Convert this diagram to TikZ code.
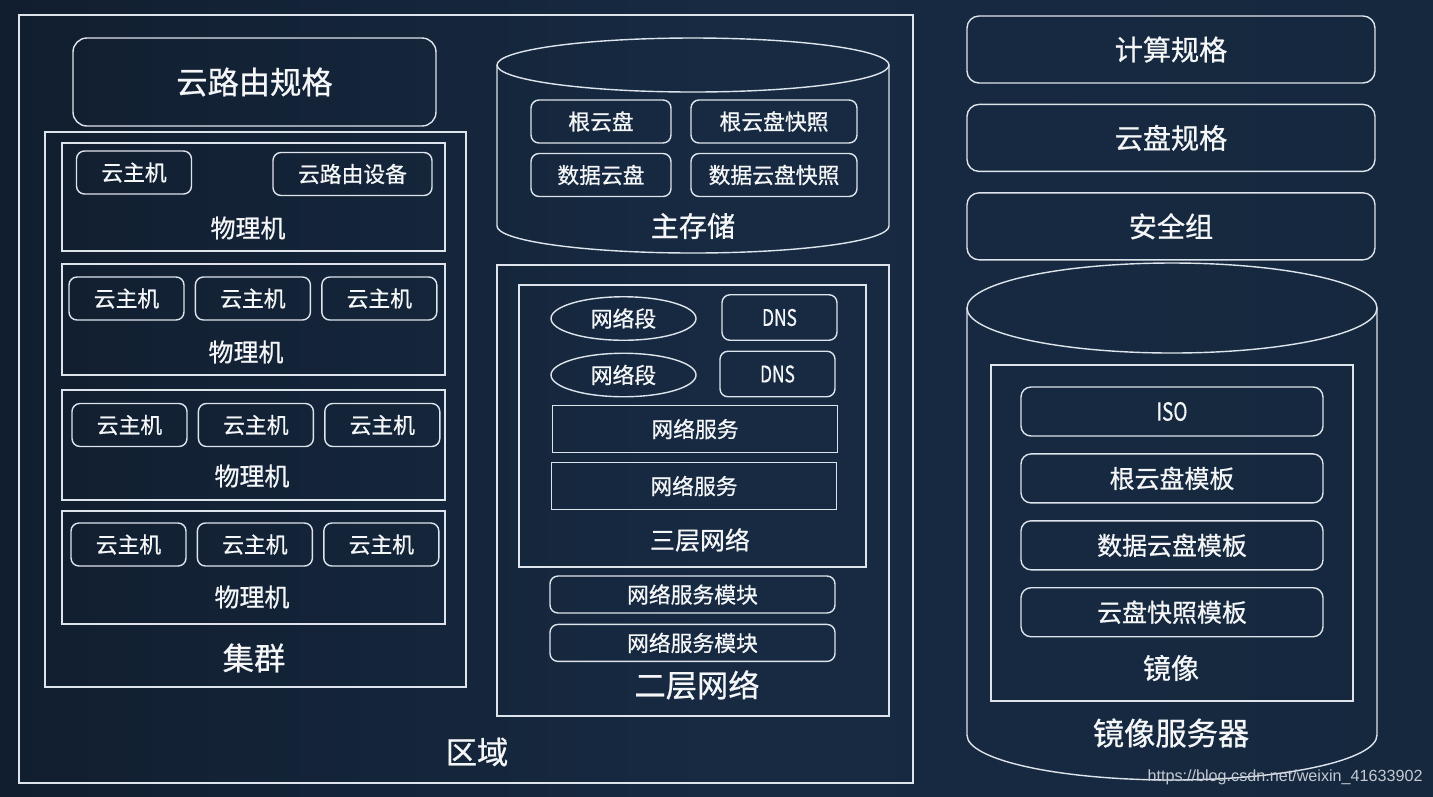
\documentclass[tikz,border=0pt]{standalone}
\usepackage{fontspec}
\setmainfont{Noto Sans CJK SC}[RawFeature={embolden=0.7}]
\newfontfamily\urlfont{Liberation Sans}
\usetikzlibrary{positioning, shapes.geometric}
\definecolor{bgLeft}{RGB}{17,30,47}
\definecolor{bgMid}{RGB}{23,42,66}
\definecolor{bgRight}{RGB}{22,40,62}
\definecolor{lineWhite}{RGB}{222,228,236}
\definecolor{textWhite}{RGB}{244,246,248}
\definecolor{markGray}{RGB}{196,202,210}
\newcommand{\narrowtxt}[1]{\scalebox{0.76}[1]{#1}}
\tikzset{
    wire/.style={draw=lineWhite, line width=0.8pt},
    zonebox/.style={
        rectangle,
        wire,
        inner sep=0pt
    },
    hostbox/.style={
        rectangle,
        wire,
        inner sep=0pt
    },
    specbox/.style={
        rectangle,
        wire,
        rounded corners=0.28cm,
        inner sep=0pt,
        text=textWhite,
        font=\fontsize{17.8}{20}\selectfont
    },
    sidespec/.style={
        rectangle,
        wire,
        rounded corners=0.24cm,
        minimum width=8.16cm,
        minimum height=1.34cm,
        inner sep=0pt,
        text=textWhite,
        font=\fontsize{16}{18}\selectfont
    },
    vmbox/.style={
        rectangle,
        wire,
        rounded corners=0.16cm,
        minimum width=2.30cm,
        minimum height=0.86cm,
        inner sep=0pt,
        text=textWhite,
        font=\fontsize{12.4}{14}\selectfont
    },
    diskbox/.style={vmbox, minimum height=0.86cm},
    segnode/.style={
        ellipse,
        wire,
        minimum width=2.90cm,
        minimum height=0.87cm,
        inner sep=0pt,
        text=textWhite,
        font=\fontsize{12.4}{14}\selectfont
    },
    dnsbox/.style={vmbox, minimum height=0.91cm, font=\fontsize{13}{15}\selectfont},
    svcbox/.style={
        rectangle,
        wire,
        minimum width=5.70cm,
        minimum height=0.94cm,
        inner sep=0pt,
        text=textWhite,
        font=\fontsize{12.4}{14}\selectfont
    },
    modbox/.style={vmbox, minimum width=5.70cm, minimum height=0.74cm},
    imgitem/.style={
        rectangle,
        wire,
        rounded corners=0.2cm,
        minimum width=6.04cm,
        minimum height=0.98cm,
        inner sep=0pt,
        text=textWhite,
        font=\fontsize{14.2}{16}\selectfont
    },
    biglabel/.style={text=textWhite, inner sep=0pt, font=\fontsize{17.8}{20}\selectfont},
    toplabel/.style={text=textWhite, inner sep=0pt, font=\fontsize{16}{18}\selectfont},
    midlabel/.style={text=textWhite, inner sep=0pt, font=\fontsize{14.2}{16}\selectfont}
}

\begin{document}
\begin{tikzpicture}[node distance=0.2cm]
    % background
    \shade[left color=bgLeft, right color=bgRight, middle color=bgMid] (0,0) rectangle (28.66,-15.92);
    \useasboundingbox (0,0) rectangle (28.66,-15.92);

    % zone with cluster
    \node[zonebox, minimum width=17.88cm, minimum height=15.36cm] (zone) at (9.32,-7.98) {};
    \node[biglabel] (zonelbl) at (9.54,-15.04) {区域};
    \node[specbox, minimum width=7.26cm, minimum height=1.76cm] (routerspec) at (5.09,-1.64) {云路由规格};
    \node[hostbox, minimum width=8.42cm, minimum height=11.10cm] (cluster) at (5.11,-8.19) {};
    \node[biglabel] (clusterlbl) at (5.08,-13.16) {集群};

    \node[hostbox, minimum width=7.66cm, minimum height=2.16cm] (pm1) at (5.07,-3.94) {};
    \node[vmbox] (vm11) at (2.68,-3.45) {云主机};
    \node[vmbox, minimum width=3.18cm] (router) at (7.05,-3.48) {云路由设备};
    \node[midlabel] (pm1lbl) at (4.96,-4.56) {物理机};

    \node[hostbox, minimum width=7.66cm, minimum height=2.22cm] (pm2) at (5.07,-6.39) {};
    \node[vmbox] (vm21) at (2.53,-5.97) {云主机};
    \node[vmbox, right=of vm21] (vm22) {云主机};
    \node[vmbox, right=of vm22] (vm23) {云主机};
    \node[midlabel] (pm2lbl) at (4.92,-7.04) {物理机};

    \node[hostbox, minimum width=7.66cm, minimum height=2.20cm] (pm3) at (5.07,-8.90) {};
    \node[vmbox] (vm31) at (2.59,-8.50) {云主机};
    \node[vmbox, right=of vm31] (vm32) {云主机};
    \node[vmbox, right=of vm32] (vm33) {云主机};
    \node[midlabel] (pm3lbl) at (5.04,-9.52) {物理机};

    \node[hostbox, minimum width=7.66cm, minimum height=2.26cm] (pm4) at (5.07,-11.35) {};
    \node[vmbox] (vm41) at (2.57,-10.89) {云主机};
    \node[vmbox, right=of vm41] (vm42) {云主机};
    \node[vmbox, right=of vm42] (vm43) {云主机};
    \node[midlabel] (pm4lbl) at (5.04,-11.94) {物理机};

    % primary storage
    \draw[wire] (13.86,-1.30) ellipse [x radius=3.92, y radius=0.54];
    \draw[wire] (9.94,-1.30) -- (9.94,-4.52) arc[start angle=180, end angle=360, x radius=3.92, y radius=0.54] -- (17.78,-1.30);
    \node[diskbox, minimum width=2.80cm] (rootdisk) at (12.02,-2.43) {根云盘};
    \node[diskbox, minimum width=3.32cm] (rootsnap) at (15.48,-2.43) {根云盘快照};
    \node[diskbox, minimum width=2.80cm] (datadisk) at (12.02,-3.50) {数据云盘};
    \node[diskbox, minimum width=3.32cm] (datasnap) at (15.48,-3.50) {数据云盘快照};
    \node[toplabel] (storelbl) at (13.86,-4.52) {主存储};

    % l2 / l3 network
    \node[hostbox, minimum width=7.84cm, minimum height=9.02cm] (l2net) at (13.86,-9.81) {};
    \node[biglabel] (l2lbl) at (13.94,-13.70) {二层网络};
    \node[hostbox, minimum width=6.94cm, minimum height=5.64cm] (l3net) at (13.85,-8.52) {};
    \node[midlabel] (l3lbl) at (14.00,-10.80) {三层网络};
    \node[segnode] (seg1) at (12.47,-6.37) {网络段};
    \node[segnode] (seg2) at (12.47,-7.50) {网络段};
    \node[dnsbox] (dns1) at (15.59,-6.35) {\narrowtxt{DNS}};
    \node[dnsbox] (dns2) at (15.55,-7.48) {\narrowtxt{DNS}};
    \node[svcbox] (svc1) at (13.90,-8.58) {网络服务};
    \node[svcbox] (svc2) at (13.88,-9.72) {网络服务};
    \node[modbox] (mod1) at (13.85,-11.89) {网络服务模块};
    \node[modbox, below=of mod1] (mod2) {网络服务模块};

    % right column
    \node[sidespec] (compspec) at (23.42,-0.99) {计算规格};
    \node[sidespec, below=0.4cm of compspec] (diskspec) {云盘规格};
    \node[sidespec, below=0.4cm of diskspec] (secgroup) {安全组};

    % image server
    \draw[wire] (23.44,-6.16) ellipse [x radius=4.10, y radius=0.90];
    \draw[wire] (19.34,-6.16) -- (19.34,-14.70) arc[start angle=180, end angle=360, x radius=4.10, y radius=0.90] -- (27.54,-6.16);
    \node[hostbox, minimum width=7.24cm, minimum height=6.72cm] (imgstore) at (23.44,-10.66) {};
    \node[imgitem] (iso) at (23.44,-8.23) {\narrowtxt{ISO}};
    \node[imgitem, below=0.33cm of iso] (roottpl) {根云盘模板};
    \node[imgitem, below=0.33cm of roottpl] (datatpl) {数据云盘模板};
    \node[imgitem, below=0.33cm of datatpl] (snaptpl) {云盘快照模板};
    \node[toplabel] (imglbl) at (23.42,-13.36) {镜像};
    \node[biglabel] (imgsrvlbl) at (23.42,-14.66) {镜像服务器};

    \node[anchor=east, inner sep=0pt, text=markGray, font=\urlfont\fontsize{9.2}{11}\selectfont] (mark) at (28.46,-15.54) {https://blog.csdn.net/weixin\_41633902};
\end{tikzpicture}
\end{document}
